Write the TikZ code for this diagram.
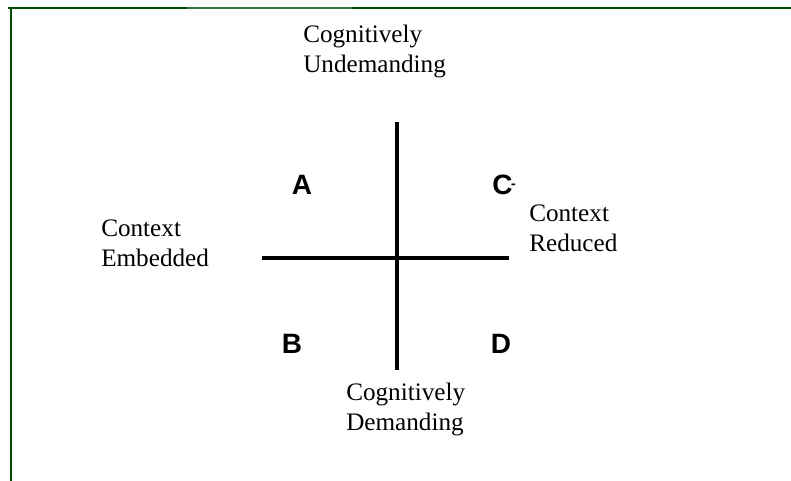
\documentclass[tikz,border=0pt]{standalone}
\usepackage{fontspec}
\setmainfont{Liberation Serif}
\newfontfamily\quadfont{Liberation Sans}

\begin{document}
\begin{tikzpicture}[x=0.025cm, y=-0.025cm,
    axis/.style={line width=2.9pt, black},
    label/.style={anchor=base west, inner sep=0pt, align=left,
        font=\fontsize{17.9}{21}\selectfont},
    quad/.style={inner sep=0pt, font=\quadfont\bfseries\fontsize{19.9}{20}\selectfont}]

    % Afmetingen van het plaatje vastleggen
    \useasboundingbox (0,0) rectangle (791,481);

    % Groene rand (alleen boven en links)
    \draw[line width=1.4pt, green!30!black] (8,8) -- (791,8);
    \draw[line width=1.4pt, green!35!black!80!white] (187,8) -- (352,8);
    \draw[line width=1.4pt, green!30!black] (11,8) -- (11,481);

    % Eindpunten van de assen
    \coordinate (N) at (397,122);  % boven
    \coordinate (S) at (397,370);  % onder
    \coordinate (W) at (262,258);  % links
    \coordinate (E) at (509,258);  % rechts

    % Teken de assen
    \draw[axis] (N) -- (S);
    \draw[axis] (W) -- (E);

    % Teksten bij de assen (base = laatste regel)
    \node[label] (undem) at (303,72) {Cognitively\\Undemanding};
    \node[label] (dem) at (346,430) {Cognitively\\Demanding};
    \node[label] (embed) at (101,266) {Context\\Embedded};
    \node[label] (reduc) at (529,251) {Context\\Reduced};

    % Letters in de kwadranten
    \node[quad] (qa) at (302,185) {A};
    \node[quad] (qb) at (292,344) {B};
    \node[quad] (qc) at (504,185) {C\kern-1pt\raisebox{4.5pt}{\fontsize{10}{10}\selectfont -}};
    \node[quad] (qd) at (501,344) {D};

\end{tikzpicture}
\end{document}
